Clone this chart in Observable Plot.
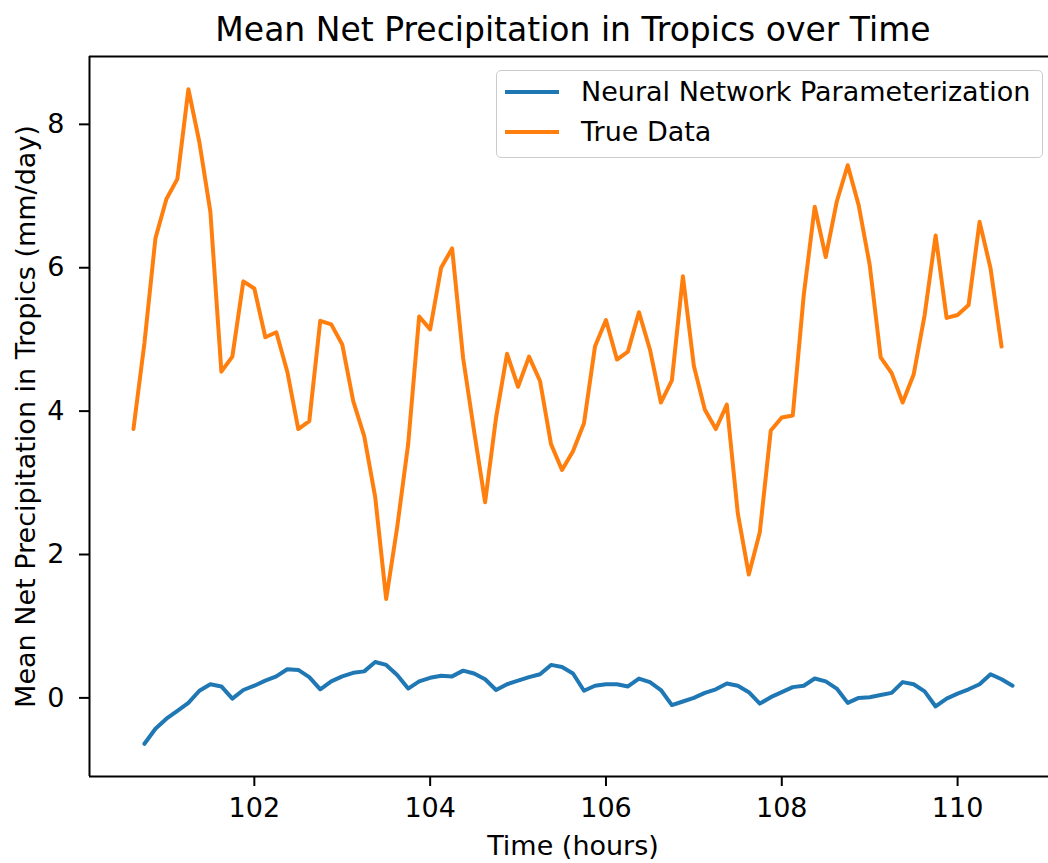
<!DOCTYPE html>
<html>
<head>
<meta charset="utf-8">
<script src="https://cdn.jsdelivr.net/npm/d3@7"></script>
<script src="https://cdn.jsdelivr.net/npm/@observablehq/plot@0.6"></script>
<style>
  html, body { margin: 0; padding: 0; background: #fff; }
  #wrap { position: relative; width: 1048px; height: 863px; font-family: "DejaVu Sans", sans-serif; overflow: hidden; }
  #legend { position: absolute; box-sizing: border-box; background: rgba(255,255,255,0.8); border: 1.5px solid #cccccc; border-radius: 5px; }
  .lrow { position: absolute; left: 0; height: 27px; display: flex; align-items: center; font-size: 27px; color: #000; white-space: nowrap; }
  .lrow .h { display: inline-block; width: 54px; height: 4px; margin-left: 8px; margin-right: 22px; }
</style>
</head>
<body>
<div id="wrap"></div>
<script>
// ---- data ----
const titleText = "Mean Net Precipitation in Tropics over Time";
const xLabelText = "Time (hours)";
const yLabelText = "Mean Net Precipitation in Tropics (mm/day)";
const seriesNames = ["Neural Network Parameterization", "True Data"];
const seriesColors = ["#1f77b4", "#ff7f0e"];
const xTicks = [102, 104, 106, 108, 110];
const yTicks = [0, 2, 4, 6, 8];

const trueTime = [
  100.625, 100.75, 100.875, 101.0, 101.125, 101.25, 101.375, 101.5,
  101.625, 101.75, 101.875, 102.0, 102.125, 102.25, 102.375, 102.5,
  102.625, 102.75, 102.875, 103.0, 103.125, 103.25, 103.375, 103.5,
  103.625, 103.75, 103.875, 104.0, 104.125, 104.25, 104.375, 104.5,
  104.625, 104.75, 104.875, 105.0, 105.125, 105.25, 105.375, 105.5,
  105.625, 105.75, 105.875, 106.0, 106.125, 106.25, 106.375, 106.5,
  106.625, 106.75, 106.875, 107.0, 107.125, 107.25, 107.375, 107.5,
  107.625, 107.75, 107.875, 108.0, 108.125, 108.25, 108.375, 108.5,
  108.625, 108.75, 108.875, 109.0, 109.125, 109.25, 109.375, 109.5,
  109.625, 109.75, 109.875, 110.0, 110.125, 110.25, 110.375, 110.5
];
const trueValue = [
  3.75, 4.95, 6.41, 6.96, 7.24, 8.49, 7.75, 6.78,
  4.55, 4.76, 5.81, 5.71, 5.03, 5.10, 4.55, 3.75,
  3.86, 5.26, 5.21, 4.93, 4.14, 3.65, 2.80, 1.38,
  2.38, 3.54, 5.32, 5.14, 6.00, 6.27, 4.74, 3.72,
  2.73, 3.91, 4.80, 4.34, 4.76, 4.42, 3.54, 3.18,
  3.44, 3.83, 4.90, 5.27, 4.72, 4.83, 5.38, 4.86,
  4.12, 4.43, 5.88, 4.63, 4.02, 3.75, 4.09, 2.57,
  1.72, 2.31, 3.73, 3.91, 3.94, 5.62, 6.85, 6.15,
  6.92, 7.43, 6.87, 6.04, 4.75, 4.53, 4.12, 4.51,
  5.34, 6.45, 5.30, 5.34, 5.48, 6.64, 5.99, 4.90
];

const nnTime = [
  100.75, 100.875, 101.0, 101.125, 101.25, 101.375, 101.5, 101.625,
  101.75, 101.875, 102.0, 102.125, 102.25, 102.375, 102.5, 102.625,
  102.75, 102.875, 103.0, 103.125, 103.25, 103.375, 103.5, 103.625,
  103.75, 103.875, 104.0, 104.125, 104.25, 104.375, 104.5, 104.625,
  104.75, 104.875, 105.0, 105.125, 105.25, 105.375, 105.5, 105.625,
  105.75, 105.875, 106.0, 106.125, 106.25, 106.375, 106.5, 106.625,
  106.75, 106.875, 107.0, 107.125, 107.25, 107.375, 107.5, 107.625,
  107.75, 107.875, 108.0, 108.125, 108.25, 108.375, 108.5, 108.625,
  108.75, 108.875, 109.0, 109.125, 109.25, 109.375, 109.5, 109.625,
  109.75, 109.875, 110.0, 110.125, 110.25, 110.375, 110.5, 110.625
];
const nnValue = [
  -0.64, -0.43, -0.29, -0.18, -0.07, 0.10, 0.19, 0.16,
  -0.01, 0.11, 0.17, 0.24, 0.30, 0.40, 0.39, 0.29,
  0.12, 0.23, 0.30, 0.35, 0.37, 0.50, 0.46, 0.32,
  0.13, 0.23, 0.28, 0.31, 0.30, 0.38, 0.34, 0.26,
  0.11, 0.19, 0.24, 0.29, 0.33, 0.46, 0.43, 0.34,
  0.10, 0.17, 0.19, 0.19, 0.16, 0.27, 0.22, 0.11,
  -0.10, -0.05, 0.00, 0.07, 0.12, 0.20, 0.17, 0.08,
  -0.08, 0.01, 0.08, 0.15, 0.17, 0.27, 0.23, 0.13,
  -0.07, 0.00, 0.01, 0.04, 0.07, 0.22, 0.19, 0.09,
  -0.12, -0.01, 0.06, 0.12, 0.19, 0.33, 0.26, 0.17
];

// ---- build ----
const nnRows = nnTime.map((t, i) => ({t, v: nnValue[i]}));
const trueRows = trueTime.map((t, i) => ({t, v: trueValue[i]}));

const W = 1048, H = 863;
const mL = 89, mR = 0, mT = 56, mB = 87;
// matplotlib-like 5% margins; the right spine falls just outside the picture
const xMin = d3.min([...trueTime, ...nnTime]), xMax = d3.max([...trueTime, ...nnTime]);
const yMin = d3.min([...trueValue, ...nnValue]), yMax = d3.max([...trueValue, ...nnValue]);
const xPad = (xMax - xMin) * 0.05, yPad = (yMax - yMin) * 0.05;
const xFull = [xMin - xPad, xMax + xPad];
const pxPerUnit = (W + 8 - mL) / (xFull[1] - xFull[0]);
const xDomain = [xFull[0], xFull[0] + (W - mL - mR) / pxPerUnit];
const yDomain = [yMin - yPad, yMax + yPad];

const fs = 27;
const chart = Plot.plot({
  width: W, height: H,
  marginLeft: mL, marginRight: mR, marginTop: mT, marginBottom: mB,
  style: {fontFamily: "DejaVu Sans", fontSize: fs + "px", background: "white", color: "black"},
  x: {domain: xDomain},
  y: {domain: yDomain},
  marks: [
    Plot.axisX({ticks: xTicks, tickSize: 10, tickPadding: 11, strokeWidth: 2, fontSize: fs, label: null, tickFormat: d => String(d)}),
    Plot.axisY({ticks: yTicks, tickSize: 10, tickPadding: 15, strokeWidth: 2, fontSize: fs, label: null, tickFormat: d => String(d)}),
    Plot.ruleX([xDomain[0]], {stroke: "black", strokeWidth: 2}),
    Plot.ruleY([yDomain[0], yDomain[1]], {stroke: "black", strokeWidth: 2}),
    Plot.lineY(nnRows, {x: "t", y: "v", stroke: seriesColors[0], strokeWidth: 4}),
    Plot.lineY(trueRows, {x: "t", y: "v", stroke: seriesColors[1], strokeWidth: 4}),
    Plot.text([titleText], {frameAnchor: "top", textAnchor: "middle", dx: 4, dy: -39, fontSize: 33, fill: "black"}),
    Plot.text([xLabelText], {frameAnchor: "bottom", textAnchor: "middle", dx: 4, dy: 78, fontSize: fs, fill: "black"}),
    Plot.text([yLabelText], {frameAnchor: "left", textAnchor: "middle", lineAnchor: "middle", rotate: -90, dx: -63, fontSize: fs, fill: "black"})
  ]
});

const wrap = document.getElementById("wrap");
wrap.appendChild(chart);

// legend (upper right inside axes)
const legend = document.createElement("div");
legend.id = "legend";
legend.style.left = "496px";
legend.style.top = "70px";
legend.style.width = "547px";
legend.style.height = "88px";
seriesNames.forEach((name, i) => {
  const row = document.createElement("div");
  row.className = "lrow";
  row.style.top = (7 + i * 40) + "px";
  const h = document.createElement("span");
  h.className = "h";
  h.style.background = seriesColors[i];
  row.appendChild(h);
  const t = document.createElement("span");
  t.textContent = name;
  row.appendChild(t);
  legend.appendChild(row);
});
wrap.appendChild(legend);
</script>
</body>
</html>
